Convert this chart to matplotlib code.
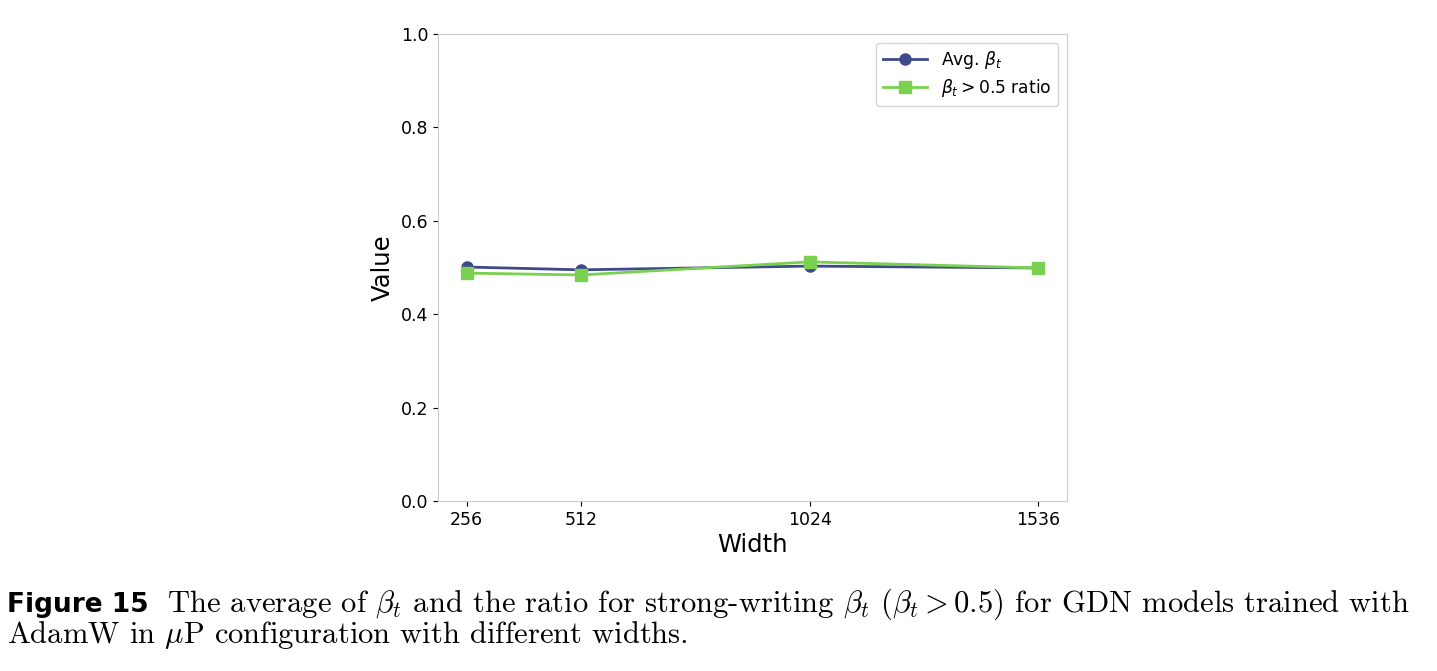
import matplotlib
matplotlib.use('Agg')
import matplotlib.pyplot as plt

# widths and the two measured quantities
widths = [256, 512, 1024, 1536]
avg_beta = [0.501, 0.495, 0.503, 0.499]
ratio_beta = [0.488, 0.484, 0.512, 0.499]

c_avg = '#3e4989'
c_ratio = '#7ad151'

fig = plt.figure(figsize=(14.37, 6.71), dpi=100)
ax = fig.add_axes([0.3048, 0.2534, 0.4377, 0.6959])

ax.plot(widths, avg_beta, '-o', color=c_avg, lw=2, ms=8, label=r'Avg. $\beta_t$')
ax.plot(widths, ratio_beta, '-s', color=c_ratio, lw=2, ms=8, label=r'$\beta_t > 0.5$ ratio')

ax.set_ylim(0, 1.0)
ax.set_xticks(widths)
ax.set_yticks([0, 0.2, 0.4, 0.6, 0.8, 1.0])
ax.tick_params(labelsize=12.5)
ax.set_xlabel('Width', fontsize=17.5, labelpad=3)
ax.set_ylabel('Value', fontsize=17.5, labelpad=4)
for s in ax.spines.values():
    s.set_color('#cccccc')
ax.legend(loc='upper right', fontsize=12.3, edgecolor='#cccccc',
          handlelength=2.6, labelspacing=0.35, borderaxespad=0.5)

# caption under the plot
fig.text(0.0049, 0.0879, 'Figure 15', fontsize=19, fontweight='bold',
         family='DejaVu Sans')
fig.text(0.1162, 0.0879,
         r'The average of $\beta_t$ and the ratio for strong-writing $\beta_t$ ($\beta_t > 0.5$) for GDN models trained with',
         fontsize=22, family='cmr10', math_fontfamily='cm')
fig.text(0.0049, 0.0417, r'AdamW in $\mu$P configuration with different widths.',
         fontsize=22, family='cmr10', math_fontfamily='cm')

fig.savefig('out.png', dpi=100)
